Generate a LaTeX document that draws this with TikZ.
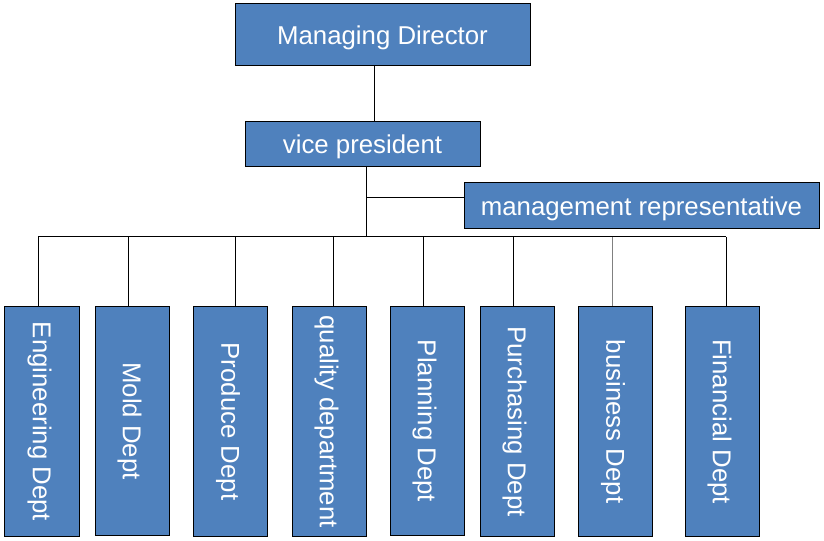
\documentclass[tikz,border=0pt]{standalone}
\usepackage{fontspec}
\setmainfont{Liberation Sans}
\definecolor{boxblue}{HTML}{4F81BD}
\tikzset{
  box/.style={draw=black, line width=1bp, fill=boxblue, text=white, inner sep=0pt,
    font=\fontsize{25.8bp}{30bp}\selectfont, text height=18.4bp, text depth=0pt},
  dept/.style={box, rotate=-90, minimum width=229bp, minimum height=74bp},
  link/.style={draw=black, line width=1bp},
}
\begin{document}
\begin{tikzpicture}[x=1bp,y=-1bp]
\useasboundingbox (0,0) rectangle (824,541);
\node[box, minimum width=295bp, minimum height=62bp] (md) at (382.5,35) {Managing Director};
\node[box, minimum width=235bp, minimum height=45bp] (vp) at (362.5,144.5) {vice president};
\node[box, minimum width=355bp, minimum height=46bp] (mr) at (641.5,206) {management representative};
\node[dept] (d1) at (42,421.5) {Engineering Dept};
\node[dept] (d2) at (132,421) {Mold Dept};
\node[dept] (d3) at (230.5,421.5) {Produce Dept};
\node[dept] (d4) at (329,421.5) {quality department};
\node[dept] (d5) at (427,421) {Planning Dept};
\node[dept] (d6) at (517,421.5) {Purchasing Dept};
\node[dept] (d7) at (615.5,421.5) {business Dept};
\node[dept] (d8) at (722,421.5) {Financial Dept};
\coordinate (bus) at (366,237);
\coordinate (busL) at (38,237);
\coordinate (busR) at (726,237);
\draw[link] (md.south -| 374,0) -- (vp.north -| 374,0);
\draw[link] (vp.south -| bus) -- (bus);
\draw[link] (bus |- 0,198) -- (mr.west |- 0,198);
\draw[link] (busL) -- (busR);
\draw[link] (busL) -- (d1.west -| busL);
\draw[link] (bus -| 128,0) -- (d2.west -| 128,0);
\draw[link] (bus -| 235,0) -- (d3.west -| 235,0);
\draw[link] (bus -| 333,0) -- (d4.west -| 333,0);
\draw[link] (bus -| 423,0) -- (d5.west -| 423,0);
\draw[link] (bus -| 513,0) -- (d6.west -| 513,0);
\draw[link, draw=gray] (bus -| 612,0) -- (d7.west -| 612,0);
\draw[link] (busR) -- (d8.west -| busR);
\end{tikzpicture}
\end{document}
